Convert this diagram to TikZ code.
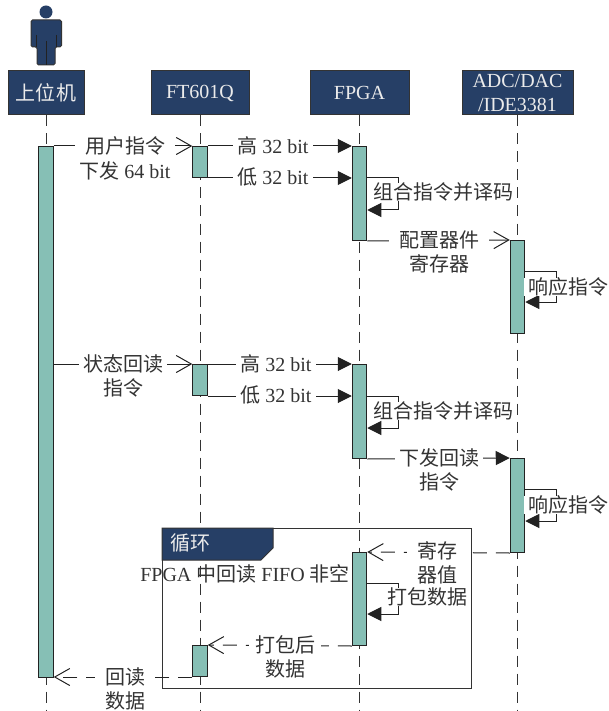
\documentclass[tikz,border=0pt]{standalone}
\usepackage{fontspec}
\setmainfont{Liberation Serif}
\newfontfamily\cjk{Noto Sans CJK SC}
\newcommand{\zh}[1]{{\cjk #1}}
\usetikzlibrary{arrows.meta, calc}
\definecolor{cnavy}{HTML}{263F66}
\definecolor{cteal}{HTML}{86BFB5}
\definecolor{cink}{HTML}{333333}
\definecolor{cline}{HTML}{222222}
\tikzset{
  every picture/.style={line width=1pt, font=\fontsize{20}{24.5}\selectfont},
  head/.style={draw=cink, fill=cnavy, text=white!92!black, align=center, inner sep=0pt, minimum height=44},
  bar/.style={draw=cline, fill=cteal, anchor=north, inner sep=0pt, minimum width=14.5},
  life/.style={draw=cink, dash pattern=on 11pt off 7pt},
  arrow/.style={-{Triangle[length=14pt, width=14pt]}, draw=cline},
  barb/.style={-{Straight Barb[length=15pt, width=17pt]}, draw=cline},
  back/.style={barb, dash pattern=on 14pt off 9pt},
  msg/.style={fill=white, text=cink, align=center, inner xsep=4pt, inner ysep=0pt},
  note/.style={text=cink, align=center},
  frame/.style={draw=cink, anchor=north west, inner sep=0pt},
}
\begin{document}
\begin{tikzpicture}[x=1pt, y=-1pt]
  \useasboundingbox (0,0) rectangle (608,711);
  % actor
  \fill[cnavy] (46,12) circle (6.5);
  \fill[cnavy, draw=cink, rounded corners=1.5pt] (31,20) -- (61.5,20) -- (61.5,47) -- (55,47) -- (55,65) -- (37,65) -- (37,47) -- (31,47) -- cycle;
  \draw[cline] (36,35) -- (36,47) (56,35) -- (56,47) (46,41) -- (46,65);
  % heads
  \node[head, minimum width=76] (host) at (46,93) {\zh{上位机}};
  \node[head, minimum width=98] (ft) at (200,93) {FT601Q};
  \node[head, minimum width=99] (fpga) at (359.5,93) {FPGA};
  \node[head, minimum width=111] (adc) at (517.5,93) {ADC/DAC\\/IDE3381};
  % lifelines
  \draw[life] (host.south) -- (host.south |- 0,711);
  \draw[life] (ft.south) -- (ft.south |- 0,711);
  \draw[life] (fpga.south) -- (fpga.south |- 0,711);
  \draw[life] (adc.south) -- (adc.south |- 0,711);
  % loop frame
  \node[frame, minimum width=309, minimum height=160] (loopbox) at (162,528) {};
  \draw[draw=cink, fill=cnavy] (loopbox.north west) -- ++(111,0) -- ++(0,20) -- ++(-12,12) -- ++(-99,0) -- cycle;
  \node[text=white!92!black] (looptag) at (190,543) {\zh{循环}};
  % bars
  \node[bar, minimum height=531] (hostbar) at (46,146) {};
  \node[bar, minimum height=31] (ftbar) at (200,146) {};
  \node[bar, minimum height=94] (fpgabar) at (359.5,146) {};
  \node[bar, minimum height=93] (adcbar) at (517.5,240) {};
  \node[bar, minimum height=31] (ftbarb) at (200,364) {};
  \node[bar, minimum height=94] (fpgabarb) at (359.5,364) {};
  \node[bar, minimum height=94] (adcbarb) at (517.5,458) {};
  \node[bar, minimum height=93] (fpgabarc) at (359.5,552) {};
  \node[bar, minimum height=31] (ftbarc) at (200,645) {};
  % first command
  \draw[barb] (hostbar.north east) -- (ftbar.north west);
  \draw[arrow] (ftbar.north east) -- (fpgabar.north west);
  \draw[arrow] (ftbar.south east) -- (ftbar.south east -| fpgabar.west);
  \draw[arrow] (ftbar.south east -| fpgabar.east) -- ++(31,0) -- ++(0,32) -- ++(-31,0);
  \draw[barb] (fpgabar.south east) -- (adcbar.north west);
  \draw[arrow] ($(adcbar.north east)+(0,31)$) -- ++(31,0) -- ++(0,31) -- ++(-31,0);
  % readback command
  \draw[barb] (hostbar.east |- ftbarb.north) -- (ftbarb.north west);
  \draw[arrow] (ftbarb.north east) -- (fpgabarb.north west);
  \draw[arrow] (ftbarb.south east) -- (ftbarb.south east -| fpgabarb.west);
  \draw[arrow] (ftbarb.south east -| fpgabarb.east) -- ++(31,0) -- ++(0,32) -- ++(-31,0);
  \draw[arrow] (fpgabarb.south east) -- (adcbarb.north west);
  \draw[arrow] ($(adcbarb.north east)+(0,31)$) -- ++(31,0) -- ++(0,32) -- ++(-31,0);
  % return path
  \draw[back] (adcbarb.south west) -- (fpgabarc.north east);
  \draw[arrow] ($(fpgabarc.north east)+(0,31)$) -- ++(31,0) -- ++(0,31) -- ++(-31,0);
  \draw[back] (fpgabarc.south west) -- (ftbarc.north east);
  \draw[back] (ftbarc.south west) -- (ftbarc.south west -| hostbar.east);
  % labels
  \node[msg] (usercmd) at (125,158.5) {\zh{用户指令}\\\zh{下发} 64 bit};
  \node[msg] (hia) at (273,146) {\zh{高} 32 bit};
  \node[msg] (loa) at (273,177) {\zh{低} 32 bit};
  \node[msg] (decodea) at (443,192) {\zh{组合指令并译码}};
  \node[msg, inner xsep=10pt] (cfg) at (439,252) {\zh{配置器件}\\\zh{寄存器}};
  \node[msg] (respa) at (568,287) {\zh{响应指令}};
  \node[msg] (statcmd) at (123,376) {\zh{状态回读}\\\zh{指令}};
  \node[msg] (hib) at (276,364) {\zh{高} 32 bit};
  \node[msg] (lob) at (276,395) {\zh{低} 32 bit};
  \node[msg] (decodeb) at (443,411) {\zh{组合指令并译码}};
  \node[msg] (rdcmd) at (439,470) {\zh{下发回读}\\\zh{指令}};
  \node[msg] (respb) at (568,505) {\zh{响应指令}};
  \node[msg, inner xsep=10pt] (regval) at (437,563) {\zh{寄存}\\\zh{器值}};
  \node[note] (fifo) at (245,574) {FPGA \zh{中回读} FIFO \zh{非空}};
  \node[msg] (pack) at (427,597) {\zh{打包数据}};
  \node[msg, inner xsep=6pt] (packed) at (285,657) {\zh{打包后}\\\zh{数据}};
  \node[msg, inner xsep=10pt] (rddata) at (125,689) {\zh{回读}\\\zh{数据}};
\end{tikzpicture}
\end{document}
